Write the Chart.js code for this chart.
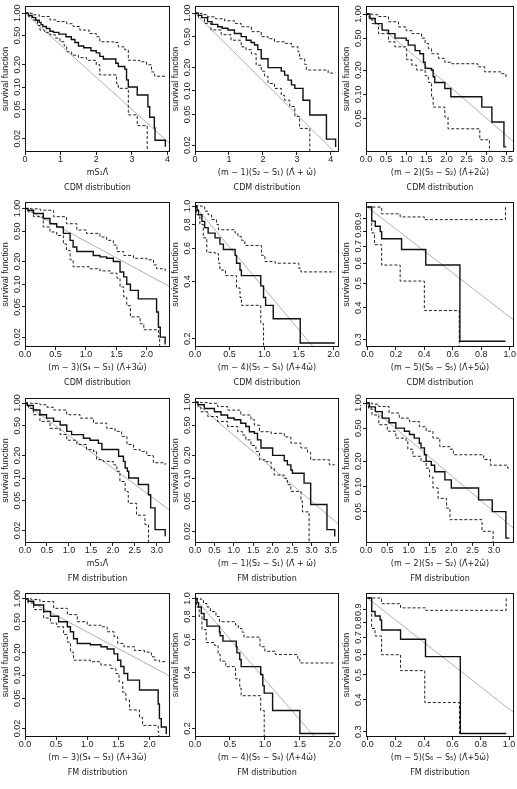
<!DOCTYPE html>
<html><head><meta charset="utf-8">
<script src="https://cdn.jsdelivr.net/npm/chart.js@4.4.1/dist/chart.umd.min.js"></script>
<style>
html,body{margin:0;padding:0;background:#fff;overflow:hidden;width:517px;height:789px;position:relative;}
canvas{position:absolute;}
</style></head><body>
<script>
// ---------- tick values & labels ----------
const xTicks04 = [0,1,2,3,4];            const xLabels04 = ['0','1','2','3','4'];
const xTicks35 = [0,0.5,1,1.5,2,2.5,3,3.5]; const xLabels35 = ['0.0','0.5','1.0','1.5','2.0','2.5','3.0','3.5'];
const xTicks30 = [0,0.5,1,1.5,2,2.5,3];  const xLabels30 = ['0.0','0.5','1.0','1.5','2.0','2.5','3.0'];
const xTicks20 = [0,0.5,1,1.5,2];        const xLabels20 = ['0.0','0.5','1.0','1.5','2.0'];
const xTicks10 = [0,0.2,0.4,0.6,0.8,1];  const xLabels10 = ['0.0','0.2','0.4','0.6','0.8','1.0'];
const yTicksA = [0.02,0.05,0.1,0.2,0.5,1]; const yLabelsA = ['0.02','0.05','0.10','0.20','0.50','1.00'];
const yTicksB = [0.05,0.1,0.2,0.5,1];      const yLabelsB = ['0.05','0.10','0.20','0.50','1.00'];
const yTicksC = [0.2,0.4,0.6,0.8,1];       const yLabelsC = ['0.2','0.4','0.6','0.8','1.0'];
const yTicksD = [0.3,0.4,0.5,0.6,0.7,0.8,0.9]; const yLabelsD = ['0.3','0.4','0.5','0.6','0.7','0.8','0.9'];

const xTitles = ['mS\u2081\u039B\u0302',
  '(m \u2212 1)(S\u2082 \u2212 S\u2081) (\u039B\u0302 + \u03C9\u0302)',
  '(m \u2212 2)(S\u2083 \u2212 S\u2082) (\u039B\u0302+2\u03C9\u0302)',
  '(m \u2212 3)(S\u2084 \u2212 S\u2083) (\u039B\u0302+3\u03C9\u0302)',
  '(m \u2212 4)(S\u2085 \u2212 S\u2084) (\u039B\u0302+4\u03C9\u0302)',
  '(m \u2212 5)(S\u2086 \u2212 S\u2085) (\u039B\u0302+5\u03C9\u0302)'];
const distNames = ['CDM distribution','FM distribution'];
const yTitle = 'survival function';

// ---------- series (x, survival) ----------
const p1Solid = [[0,1],[0.1,0.93],[0.2,0.87],[0.3,0.8],[0.4,0.75],[0.45,0.7],[0.5,0.66],[0.6,0.62],[0.7,0.57],[0.8,0.55],[0.95,0.52],[1.15,0.48],[1.3,0.44],[1.4,0.4],[1.5,0.36],[1.65,0.34],[1.85,0.31],[2.0,0.29],[2.1,0.26],[2.2,0.24],[2.55,0.21],[2.62,0.19],[2.8,0.175],[2.85,0.125],[2.9,0.1],[3.15,0.078],[3.45,0.054],[3.5,0.039],[3.63,0.028],[3.65,0.019],[3.94,0.0155]];
const p1Upper = [[0,1],[0.2,0.95],[0.4,0.9],[0.7,0.81],[0.9,0.77],[1.17,0.72],[1.35,0.66],[1.54,0.59],[1.8,0.53],[2.0,0.48],[2.1,0.41],[2.48,0.4],[2.62,0.35],[2.8,0.32],[2.9,0.23],[3.22,0.22],[3.41,0.2],[3.55,0.16],[3.64,0.14],[3.94,0.14]];
const p1Lower = [[0,1],[0.1,0.9],[0.23,0.81],[0.35,0.68],[0.42,0.59],[0.55,0.55],[0.7,0.51],[0.85,0.46],[0.98,0.41],[1.1,0.36],[1.17,0.3],[1.31,0.27],[1.5,0.25],[1.73,0.23],[2.0,0.2],[2.1,0.146],[2.57,0.112],[2.62,0.096],[2.9,0.042],[3.15,0.03],[3.43,0.001]];
const p1Ref = [[0,1],[4.07,0.0171]];

const p2Solid = [[0,1],[0.1,0.94],[0.2,0.88],[0.37,0.78],[0.5,0.72],[0.67,0.67],[0.8,0.64],[0.97,0.61],[1.16,0.55],[1.36,0.5],[1.51,0.45],[1.65,0.42],[1.75,0.39],[1.85,0.34],[1.95,0.26],[2.15,0.2],[2.54,0.18],[2.64,0.16],[2.74,0.138],[2.84,0.12],[2.94,0.108],[3.18,0.076],[3.38,0.049],[3.87,0.024],[4.14,0.019]];
const p2Upper = [[0,1],[0.2,0.96],[0.37,0.9],[0.6,0.85],[0.87,0.8],[1.16,0.74],[1.36,0.67],[1.66,0.58],[1.95,0.5],[2.15,0.47],[2.34,0.43],[2.64,0.41],[2.84,0.37],[3.03,0.32],[3.08,0.26],[3.23,0.22],[3.28,0.186],[3.92,0.17],[4.14,0.17]];
const p2Lower = [[0,1],[0.1,0.88],[0.28,0.74],[0.47,0.61],[0.77,0.53],[1.06,0.45],[1.36,0.37],[1.5,0.34],[1.66,0.3],[1.8,0.215],[1.95,0.18],[2.05,0.155],[2.15,0.125],[2.34,0.108],[2.54,0.088],[2.64,0.076],[2.79,0.063],[2.94,0.047],[3.08,0.033],[3.38,0.001]];
const p2Ref = [[0,1],[4.24,0.0144]];

const p3Solid = [[0,1],[0.1,0.88],[0.23,0.76],[0.4,0.63],[0.56,0.57],[0.72,0.5],[1.0,0.47],[1.05,0.41],[1.22,0.35],[1.34,0.32],[1.43,0.25],[1.47,0.21],[1.63,0.2],[1.67,0.165],[1.71,0.14],[1.96,0.118],[2.11,0.093],[2.88,0.069],[3.13,0.045],[3.43,0.022],[3.49,0.022]];
const p3Upper = [[0,1],[0.15,0.98],[0.31,0.93],[0.56,0.8],[0.81,0.69],[1.0,0.62],[1.14,0.57],[1.38,0.5],[1.47,0.43],[1.55,0.37],[1.63,0.32],[1.8,0.28],[1.96,0.25],[2.13,0.24],[2.78,0.22],[2.95,0.19],[3.35,0.18],[3.48,0.16]];
const p3Lower = [[0,1],[0.08,0.88],[0.15,0.76],[0.31,0.57],[0.56,0.45],[0.72,0.39],[1.01,0.27],[1.14,0.23],[1.26,0.2],[1.47,0.17],[1.55,0.14],[1.63,0.093],[1.67,0.069],[1.96,0.052],[2.04,0.037],[2.83,0.027],[3.07,0.001]];
const p3Ref = [[0,1],[3.68,0.0252]];

const p4Solid = [[0,1],[0.05,0.95],[0.14,0.86],[0.3,0.74],[0.41,0.63],[0.52,0.57],[0.63,0.47],[0.74,0.38],[0.79,0.31],[0.85,0.27],[1.12,0.24],[1.23,0.23],[1.34,0.22],[1.45,0.2],[1.56,0.145],[1.62,0.125],[1.67,0.1],[1.73,0.083],[1.86,0.064],[2.16,0.043],[2.19,0.027],[2.22,0.02],[2.3,0.016]];
const p4Upper = [[0,1],[0.1,0.99],[0.25,0.95],[0.47,0.78],[0.68,0.63],[0.85,0.52],[1.01,0.47],[1.23,0.42],[1.34,0.38],[1.45,0.33],[1.51,0.27],[1.62,0.24],[1.78,0.22],[2.0,0.21],[2.11,0.18],[2.16,0.16],[2.3,0.15]];
const p4Lower = [[0,1],[0.05,0.9],[0.14,0.78],[0.3,0.57],[0.41,0.49],[0.52,0.44],[0.63,0.34],[0.68,0.28],[0.74,0.21],[0.79,0.17],[1.07,0.16],[1.23,0.15],[1.4,0.14],[1.51,0.12],[1.56,0.092],[1.62,0.068],[1.67,0.052],[1.73,0.037],[1.89,0.03],[1.95,0.025],[2.19,0.02],[2.21,0.001]];
const p4Ref = [[0,1],[2.38,0.0926]];

const p5Solid = [[0,1],[0.03,0.95],[0.05,0.9],[0.1,0.83],[0.14,0.77],[0.19,0.72],[0.29,0.68],[0.36,0.63],[0.41,0.59],[0.58,0.55],[0.6,0.5],[0.65,0.46],[0.67,0.43],[0.95,0.38],[0.99,0.33],[1.02,0.3],[1.13,0.255],[1.52,0.19],[2.02,0.19]];
const p5Upper = [[0,1],[0.1,0.99],[0.14,0.94],[0.19,0.9],[0.24,0.85],[0.31,0.8],[0.34,0.75],[0.58,0.72],[0.62,0.69],[0.67,0.66],[0.72,0.62],[0.96,0.55],[1.01,0.51],[1.16,0.5],[1.5,0.47],[1.53,0.45],[2.02,0.45]];
const p5Lower = [[0,1],[0.02,0.9],[0.07,0.8],[0.12,0.68],[0.17,0.57],[0.29,0.56],[0.34,0.5],[0.36,0.46],[0.44,0.43],[0.6,0.37],[0.65,0.33],[0.67,0.3],[0.95,0.24],[0.99,0.001]];
const p5Ref = [[0,1],[2.08,0.125]];

const p6Solid = [[0,1],[0.03,0.88],[0.055,0.84],[0.09,0.8],[0.1,0.75],[0.24,0.68],[0.41,0.59],[0.65,0.295],[0.97,0.295]];
const p6Upper = [[0,1],[0.1,0.94],[0.23,0.914],[0.4,0.892],[0.97,1]];
const p6Lower = [[0,1],[0.03,0.79],[0.05,0.71],[0.1,0.59],[0.23,0.51],[0.4,0.39],[0.645,0.001]];
const p6Ref = [[0,1],[1.03,0.357]];

const p7Solid = [[0,1],[0.05,0.93],[0.19,0.81],[0.34,0.7],[0.49,0.63],[0.65,0.57],[0.8,0.51],[0.95,0.42],[1.06,0.38],[1.33,0.34],[1.48,0.32],[1.67,0.29],[1.75,0.24],[2.13,0.195],[2.24,0.167],[2.28,0.136],[2.33,0.123],[2.36,0.1],[2.58,0.082],[2.81,0.06],[2.86,0.04],[2.96,0.0205],[3.19,0.0167]];
const p7Upper = [[0,1],[0.15,0.99],[0.34,0.95],[0.5,0.88],[0.65,0.81],[0.95,0.7],[1.25,0.63],[1.56,0.54],[1.86,0.46],[2.05,0.42],[2.2,0.36],[2.32,0.28],[2.47,0.24],[2.62,0.227],[2.77,0.2],[2.92,0.16],[3.19,0.15]];
const p7Lower = [[0,1],[0.08,0.85],[0.19,0.7],[0.34,0.57],[0.57,0.46],[0.8,0.38],[0.95,0.32],[1.18,0.28],[1.4,0.24],[1.56,0.227],[1.63,0.176],[1.78,0.167],[2.01,0.15],[2.09,0.123],[2.16,0.09],[2.28,0.066],[2.35,0.046],[2.54,0.032],[2.73,0.024],[2.81,0.001]];
const p7Ref = [[0,1],[3.30,0.0369]];

const p8Solid = [[0,1],[0.08,0.93],[0.24,0.83],[0.5,0.75],[0.67,0.68],[0.84,0.62],[1.01,0.59],[1.18,0.53],[1.31,0.48],[1.4,0.41],[1.53,0.39],[1.61,0.32],[1.7,0.25],[2.0,0.2],[2.3,0.17],[2.38,0.15],[2.47,0.128],[2.51,0.116],[2.81,0.086],[2.98,0.045],[3.4,0.021],[3.6,0.017]];
const p8Upper = [[0,1],[0.15,0.99],[0.33,0.97],[0.58,0.88],[0.84,0.79],[1.18,0.68],[1.44,0.59],[1.53,0.5],[1.66,0.41],[1.96,0.39],[2.3,0.35],[2.47,0.29],[2.73,0.25],[2.9,0.22],[2.98,0.175],[3.46,0.15],[3.6,0.15]];
const p8Lower = [[0,1],[0.08,0.85],[0.15,0.75],[0.33,0.65],[0.58,0.56],[0.84,0.48],[1.1,0.41],[1.23,0.37],[1.31,0.32],[1.44,0.27],[1.57,0.225],[1.66,0.175],[1.83,0.165],[1.96,0.135],[2.04,0.11],[2.3,0.1],[2.38,0.082],[2.47,0.067],[2.73,0.05],[2.77,0.036],[2.94,0.001]];
const p8Ref = [[0,1],[3.71,0.0245]];

const p9Solid = [[0,1],[0.08,0.9],[0.22,0.79],[0.38,0.66],[0.54,0.58],[0.7,0.5],[0.9,0.46],[1.02,0.42],[1.13,0.38],[1.25,0.33],[1.29,0.29],[1.37,0.24],[1.41,0.2],[1.53,0.18],[1.61,0.15],[1.85,0.12],[2.0,0.096],[2.64,0.069],[2.96,0.05],[3.28,0.024],[3.36,0.024]];
const p9Upper = [[0,1],[0.15,0.97],[0.3,0.91],[0.54,0.76],[0.78,0.66],[1.02,0.6],[1.25,0.52],[1.41,0.46],[1.57,0.38],[1.73,0.3],[1.97,0.28],[2.05,0.24],[2.76,0.21],[2.92,0.18],[3.32,0.166],[3.36,0.166]];
const p9Lower = [[0,1],[0.06,0.85],[0.14,0.72],[0.3,0.55],[0.5,0.46],[0.7,0.38],[0.94,0.35],[0.98,0.28],[1.1,0.23],[1.29,0.2],[1.41,0.166],[1.49,0.13],[1.57,0.096],[1.69,0.072],[1.89,0.055],[1.97,0.04],[2.72,0.029],[2.98,0.001]];
const p9Ref = [[0,1],[3.47,0.0311]];

const p10Solid = [[0,1],[0.05,0.93],[0.14,0.83],[0.3,0.68],[0.41,0.59],[0.54,0.5],[0.68,0.43],[0.73,0.37],[0.78,0.3],[0.84,0.26],[1.05,0.25],[1.22,0.235],[1.32,0.22],[1.43,0.19],[1.49,0.157],[1.54,0.13],[1.59,0.105],[1.65,0.086],[1.84,0.064],[2.14,0.042],[2.16,0.027],[2.19,0.021],[2.27,0.017]];
const p10Upper = [[0,1],[0.1,0.98],[0.24,0.92],[0.46,0.75],[0.68,0.62],[0.84,0.5],[1.0,0.45],[1.22,0.43],[1.32,0.37],[1.43,0.32],[1.49,0.26],[1.59,0.235],[1.76,0.21],[1.92,0.2],[2.03,0.174],[2.08,0.157],[2.16,0.15],[2.27,0.15]];
const p10Lower = [[0,1],[0.05,0.88],[0.14,0.72],[0.3,0.56],[0.41,0.48],[0.51,0.43],[0.62,0.34],[0.68,0.27],[0.73,0.2],[0.78,0.157],[1.05,0.15],[1.22,0.136],[1.38,0.122],[1.46,0.105],[1.51,0.082],[1.57,0.06],[1.62,0.047],[1.68,0.035],[1.84,0.028],[1.89,0.022],[2.14,0.018],[2.15,0.001]];
const p10Ref = [[0,1],[2.33,0.097]];

const p11Solid = [[0,1],[0.03,0.95],[0.05,0.9],[0.09,0.83],[0.13,0.77],[0.17,0.71],[0.35,0.66],[0.36,0.63],[0.4,0.59],[0.59,0.55],[0.6,0.51],[0.64,0.47],[0.66,0.43],[0.94,0.39],[0.97,0.34],[0.99,0.31],[1.11,0.25],[1.5,0.188],[2.01,0.188]];
const p11Upper = [[0,1],[0.08,0.99],[0.12,0.94],[0.17,0.9],[0.22,0.85],[0.3,0.8],[0.35,0.75],[0.58,0.72],[0.62,0.69],[0.67,0.66],[0.7,0.62],[0.93,0.55],[1.0,0.52],[1.15,0.5],[1.47,0.47],[1.5,0.45],[2.01,0.45]];
const p11Lower = [[0,1],[0.02,0.9],[0.06,0.8],[0.1,0.68],[0.16,0.58],[0.28,0.56],[0.33,0.5],[0.36,0.46],[0.44,0.43],[0.58,0.37],[0.64,0.33],[0.66,0.3],[0.94,0.25],[0.99,0.001]];
const p11Ref = [[0,1],[2.06,0.127]];

const p12Solid = [[0,1],[0.03,0.886],[0.054,0.85],[0.09,0.82],[0.1,0.75],[0.234,0.69],[0.41,0.59],[0.656,0.295],[0.98,0.295]];
const p12Upper = [[0,1],[0.1,0.95],[0.234,0.915],[0.41,0.895],[0.98,1]];
const p12Lower = [[0,1],[0.03,0.76],[0.054,0.71],[0.1,0.6],[0.234,0.52],[0.405,0.39],[0.65,0.001]];
const p12Ref = [[0,1],[1.035,0.355]];

// ---------- panel table ----------
const panels = [
 {col:0,row:0,xr:[0,4.07],yr:[0.0132,1.25],xt:xTicks04,xl:xLabels04,yt:yTicksA,yl:yLabelsA,t:0,d:0,s:p1Solid,u:p1Upper,l:p1Lower,r:p1Ref},
 {col:1,row:0,xr:[0,4.24],yr:[0.0164,1.24],xt:xTicks04,xl:xLabels04,yt:yTicksA,yl:yLabelsA,t:1,d:0,s:p2Solid,u:p2Upper,l:p2Lower,r:p2Ref},
 {col:2,row:0,xr:[0,3.68],yr:[0.019,1.26],xt:xTicks35,xl:xLabels35,yt:yTicksB,yl:yLabelsB,t:2,d:0,s:p3Solid,u:p3Upper,l:p3Lower,r:p3Ref},
 {col:0,row:1,xr:[0,2.38],yr:[0.0148,1.22],xt:xTicks20,xl:xLabels20,yt:yTicksA,yl:yLabelsA,t:3,d:0,s:p4Solid,u:p4Upper,l:p4Lower,r:p4Ref},
 {col:1,row:1,xr:[0,2.08],yr:[0.181,1.05],xt:xTicks20,xl:xLabels20,yt:yTicksC,yl:yLabelsC,t:4,d:0,s:p5Solid,u:p5Upper,l:p5Lower,r:p5Ref},
 {col:2,row:1,xr:[-0.01,1.03],yr:[0.282,1.047],xt:xTicks10,xl:xLabels10,yt:yTicksD,yl:yLabelsD,t:5,d:0,s:p6Solid,u:p6Upper,l:p6Lower,r:p6Ref},
 {col:0,row:2,xr:[0,3.30],yr:[0.0136,1.17],xt:xTicks30,xl:xLabels30,yt:yTicksA,yl:yLabelsA,t:0,d:1,s:p7Solid,u:p7Upper,l:p7Lower,r:p7Ref},
 {col:1,row:2,xr:[0,3.71],yr:[0.014,1.14],xt:xTicks35,xl:xLabels35,yt:yTicksA,yl:yLabelsA,t:1,d:1,s:p8Solid,u:p8Upper,l:p8Lower,r:p8Ref},
 {col:2,row:2,xr:[0,3.47],yr:[0.021,1.15],xt:xTicks30,xl:xLabels30,yt:yTicksB,yl:yLabelsB,t:2,d:1,s:p9Solid,u:p9Upper,l:p9Lower,r:p9Ref},
 {col:0,row:3,xr:[0,2.33],yr:[0.0155,1.19],xt:xTicks20,xl:xLabels20,yt:yTicksA,yl:yLabelsA,t:3,d:1,s:p10Solid,u:p10Upper,l:p10Lower,r:p10Ref},
 {col:1,row:3,xr:[0,2.06],yr:[0.18,1.07],xt:xTicks20,xl:xLabels20,yt:yTicksC,yl:yLabelsC,t:4,d:1,s:p11Solid,u:p11Upper,l:p11Lower,r:p11Ref},
 {col:2,row:3,xr:[-0.01,1.035],yr:[0.286,1.046],xt:xTicks10,xl:xLabels10,yt:yTicksD,yl:yLabelsD,t:5,d:1,s:p12Solid,u:p12Upper,l:p12Lower,r:p12Ref}
];

// ---------- layout ----------
const FONT = "'Liberation Sans', Arial, sans-serif";
const TFONT = "'DejaVu Sans', sans-serif";
const colL=[25,195,366], colR=[170,339,514];
const rowT=[6,202,398,593], rowB=[152,347,543,737];
const YW=25, XH=44, PT=5, PR=4, TICK=3, FS=9;
Chart.defaults.font.family = FONT;

const boxPlugin = {id:'box', afterDatasetsDraw(chart){
  const a = chart.chartArea, ctx = chart.ctx;
  ctx.save(); ctx.strokeStyle='#111'; ctx.lineWidth=1;
  ctx.strokeRect(Math.round(a.left)+0.5, Math.round(a.top)+0.5, Math.round(a.right-a.left)-1, Math.round(a.bottom-a.top)-1);
  ctx.restore();
}};

const toXY = arr => arr.map(p => ({x:p[0], y:p[1]}));

function makePanel(p){
  const L=colL[p.col], R=colR[p.col], T=rowT[p.row], B=rowB[p.row];
  const c=document.createElement('canvas');
  c.width = R-L+YW+PR; c.height = B-T+PT+XH;
  c.style.left=(L-YW)+'px'; c.style.top=(T-PT)+'px';
  c.style.width=c.width+'px'; c.style.height=c.height+'px';
  document.body.appendChild(c);
  const m = c.getContext('2d'); m.font = FS+'px '+FONT;
  const wMax = Math.max(...p.yl.map(s=>m.measureText(s).width));
  const yPad = 7 - TICK - wMax/2;
  const grid = {display:true, drawOnChartArea:false, drawTicks:true, tickLength:TICK, color:'#222', lineWidth:1};
  new Chart(c, {
    type:'line',
    data:{datasets:[
      {data:toXY(p.s), borderColor:'#111', borderWidth:1.4, stepped:true},
      {data:toXY(p.u), borderColor:'#222', borderWidth:1, borderDash:[3,2], stepped:true},
      {data:toXY(p.l), borderColor:'#222', borderWidth:1, borderDash:[3,2], stepped:true},
      {data:toXY(p.r), borderColor:'#b0b0b0', borderWidth:1}
    ]},
    options:{
      responsive:false, animation:false, devicePixelRatio:1,
      layout:{padding:{left:0, top:PT, right:PR, bottom:0}},
      plugins:{legend:{display:false}, tooltip:{enabled:false}},
      elements:{point:{radius:0, hoverRadius:0}, line:{tension:0, fill:false}},
      scales:{
        x:{type:'linear', min:p.xr[0], max:p.xr[1],
          afterBuildTicks:s=>{s.ticks=p.xt.map(v=>({value:v}));},
          afterFit:s=>{s.height=XH;},
          ticks:{autoSkip:false, maxRotation:0, minRotation:0, padding:-1, color:'#222', font:{size:FS, family:FONT}, callback:(v,i)=>p.xl[i]},
          grid:grid, border:{display:false},
          title:{display:true, text:[xTitles[p.t], distNames[p.d]], color:'#222', font:{size:8, family:TFONT, lineHeight:1.8}, padding:{top:0,bottom:1}}
        },
        y:{type:'logarithmic', min:p.yr[0], max:p.yr[1],
          afterBuildTicks:s=>{s.ticks=p.yt.map(v=>({value:v}));},
          afterFit:s=>{s.width=YW;},
          ticks:{autoSkip:false, minRotation:90, maxRotation:90, crossAlign:'center', padding:yPad, color:'#222', font:{size:FS, family:FONT}, callback:(v,i)=>p.yl[i]},
          grid:grid, border:{display:false},
          title:{display:true, text:yTitle, color:'#222', font:{size:FS, family:FONT}, padding:{top:0,bottom:0}}
        }
      }
    },
    plugins:[boxPlugin]
  });
}
panels.forEach(makePanel);
</script>
</body></html>
